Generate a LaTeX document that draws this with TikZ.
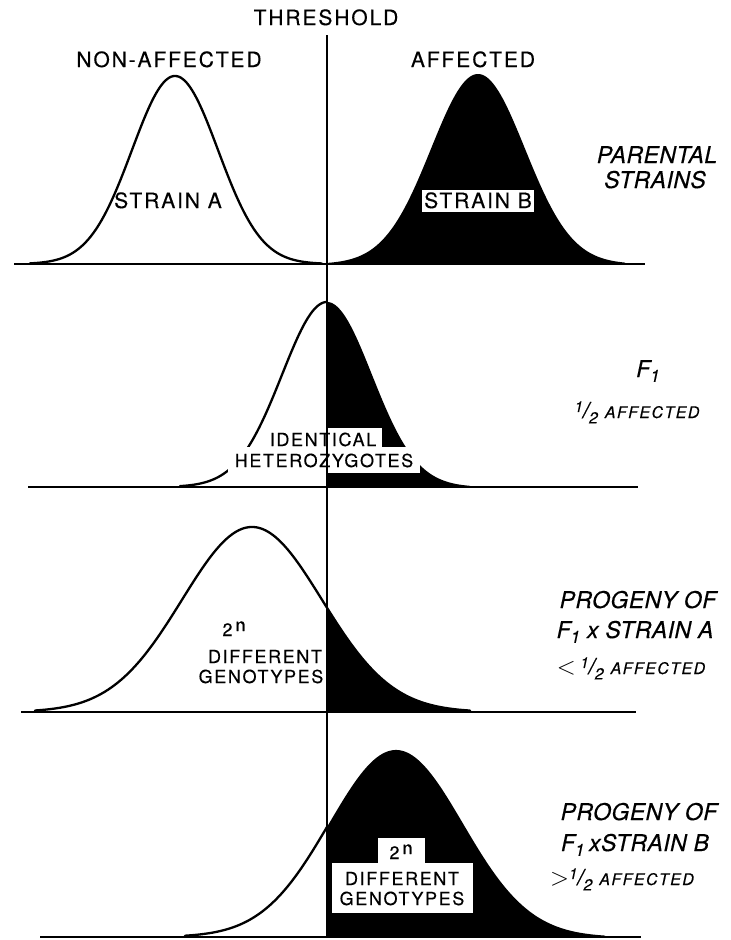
\documentclass[tikz,border=0pt]{standalone}
\usepackage{fontspec}
\setmainfont{TeX Gyre Heros}
\newfontfamily\lfont[LetterSpace=9,FakeBold=0.3]{TeX Gyre Heros}
\newfontfamily\rfont[LetterSpace=2,FakeBold=0.3]{TeX Gyre Heros}
\newcommand\halffr{\raisebox{0.5ex}{\fontsize{15}{15}\selectfont 1}{\fontsize{22}{22}\selectfont /}\raisebox{-0.45ex}{\fontsize{16}{16}\selectfont 2}}
\newcommand\affd{{\lfont\itshape\fontsize{16}{18}\selectfont AFFECTED}}
\newcommand\Fone{F\raisebox{-0.4ex}{\fontsize{17}{17}\selectfont 1}}
\newcommand\twon{{\fontsize{18}{18}\selectfont 2\kern3pt\raisebox{5pt}{n}}}
\begin{document}
\begin{tikzpicture}[x=1pt,y=-1pt,
  curve/.style={line width=2.3pt, line join=round, line cap=round},
  axis/.style={line width=2.3pt},
  thr/.style={line width=1.4pt},
  big/.style={font=\lfont\fontsize{21}{23}\selectfont, inner sep=0pt, anchor=base},
  mid/.style={font=\lfont\fontsize{18}{20}\selectfont, inner sep=0pt, anchor=base},
  side/.style={font=\rfont\itshape\fontsize{23}{25}\selectfont, inner sep=0pt, anchor=base},
  mask/.style={fill=white}]
\useasboundingbox (0,0) rectangle (731,940);
\fill[white] (0,0) rectangle (731,940);

% ---------- panel 1: parental strains
\draw[curve] plot[domain=30:322, samples=150, variable=\t]
  (\t,{264-188*exp(-0.5*((\t-175)/43)*((\t-175)/43))});
\fill (327,264) -- plot[domain=327:625, samples=150, variable=\t]
  (\t,{264-190*exp(-0.5*((\t-478)/47)*((\t-478)/47))}) -- (625,264) -- cycle;

% ---------- panel 2: F1
\draw[curve] plot[domain=180:327, samples=120, variable=\t]
  (\t,{487-185*exp(-0.5*((\t-327)/45)*((\t-327)/45))});
\fill (327,487) -- plot[domain=327:470, samples=120, variable=\t]
  (\t,{487-185*exp(-0.5*((\t-327)/45)*((\t-327)/45))}) -- (470,487) -- cycle;

% ---------- panel 3: F1 x strain A
\draw[curve] plot[domain=35:470, samples=180, variable=\t]
  (\t,{712-185*exp(-0.5*((\t-252)/70)*((\t-252)/70))});
\fill (327,712) -- plot[domain=327:470, samples=120, variable=\t]
  (\t,{712-185*exp(-0.5*((\t-252)/70)*((\t-252)/70))}) -- (470,712) -- cycle;

% ---------- panel 4: F1 x strain B
\draw[curve] plot[domain=185:327, samples=120, variable=\t]
  (\t,{937-187*exp(-0.5*((\t-396)/67)*((\t-396)/67))});
\fill (327,937) -- plot[domain=327:605, samples=160, variable=\t]
  (\t,{937-187*exp(-0.5*((\t-396)/67)*((\t-396)/67))}) -- (605,937) -- cycle;

% ---------- white label masks
\fill[mask] (422,190) rectangle (534,212);
\fill[mask] (263,428) rectangle (382,448);
\fill[mask] (228,447) rectangle (420,473);
\fill[mask] (378,838) rectangle (425,864);
\fill[mask] (332,863) rectangle (473,913);

% ---------- baselines and threshold
\coordinate (b1l) at (14,264);  \coordinate (b1r) at (645,264);
\coordinate (b2l) at (28,487);  \coordinate (b2r) at (638,487);
\coordinate (b3l) at (21,712);  \coordinate (b3r) at (636,712);
\coordinate (b4l) at (40,937);  \coordinate (b4r) at (641,937);
\coordinate (tt) at (327,35);   \coordinate (tb) at (327,937);
\draw[axis] (b1l) -- (b1r);
\draw[axis] (b2l) -- (b2r);
\draw[axis] (b3l) -- (b3r);
\draw[axis] (b4l) -- (b4r);
\draw[thr] (tt) -- (tb);

% ---------- texts
\node[big] (thresh) at (326,25) {THRESHOLD};
\node[big] (nonaff) at (169,67) {NON-AFFECTED};
\node[big] (aff) at (473,67) {AFFECTED};
\node[big] (sa) at (168,208) {STRAIN A};
\node[big] (sb) at (478,208) {STRAIN B};
\node[side] (par1) at (657,163) {PARENTAL};
\node[side] (par2) at (655,188) {STRAINS};

\node[mid] (iden) at (323,446) {IDENTICAL};
\node[mid] (hetz) at (324,467) {HETEROZYGOTES};
\node[side] (f1) at (648,377) {\Fone};
\node[side] (f1h) at (637,418) {\halffr\kern0.3em\affd};

\node[mid] (g3a) at (234,636) {\twon};
\node[mid] (g3b) at (265,663) {DIFFERENT};
\node[mid] (g3c) at (261,683) {GENOTYPES};
\node[side] (p3a) at (638,608) {PROGENY OF};
\node[side] (p3b) at (635,638) {\Fone\kern0.3em x STRAIN A};
\node[side] (p3c) at (631,674) {$<$\kern0.2em\halffr\kern0.3em\affd};

\node[mid] (g4a) at (401,859) {\twon};
\node[mid] (g4b) at (402,885) {DIFFERENT};
\node[mid] (g4c) at (402,905) {GENOTYPES};
\node[side] (p4a) at (639,820) {PROGENY OF};
\node[side] (p4b) at (635,851) {\Fone\kern0.2em xSTRAIN B};
\node[side] (p4c) at (622,885) {$>$\halffr\kern0.3em\affd};
\end{tikzpicture}
\end{document}
